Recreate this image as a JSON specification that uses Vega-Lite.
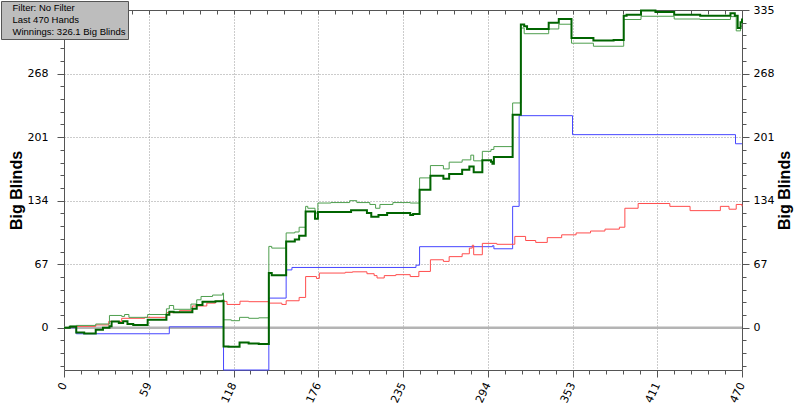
{
  "$schema": "https://vega.github.io/schema/vega-lite/v6.json",
  "width": 678,
  "height": 360,
  "autosize": {"type": "none"},
  "padding": {"left": 64, "top": 10, "right": 58, "bottom": 36},
  "background": "white",
  "config": {
    "view": {"stroke": null},
    "axis": {
      "labelFont": "DejaVu Sans", "labelFontSize": 11, "labelColor": "#000000", "labelOverlap": false,
      "titleFont": "Liberation Sans", "titleFontSize": 16, "titleFontWeight": "bold", "titleColor": "#000000",
      "domainColor": "#555555", "tickColor": "#555555"
    }
  },
  "resolve": {"scale": {"x": "independent", "y": "independent"}, "axis": {"x": "independent", "y": "independent"}},
  "layer": [
    {
      "data": {"values": [{"v": 0}]},
      "mark": {"type": "rule", "color": "#b4b4b4", "strokeWidth": 2.5},
      "encoding": {"y": {"field": "v", "type": "quantitative", "scale": {"domain": [-44.5, 335], "nice": false, "zero": false}, "axis": null}}
    },
    {
      "data": {"values": [
        {"h": 0, "v": 0}, {"h": 8.5, "v": -6.3}, {"h": 73, "v": 1}, {"h": 110.6, "v": -44.5}, {"h": 142, "v": 31.3},
        {"h": 154, "v": 61}, {"h": 158, "v": 63.6}, {"h": 244, "v": 66}, {"h": 246.5, "v": 85.5}, {"h": 297, "v": 86.5},
        {"h": 298, "v": 83.3}, {"h": 311, "v": 128}, {"h": 315.5, "v": 223.6}, {"h": 352.5, "v": 203.6}, {"h": 465.5, "v": 194}, {"h": 470, "v": 194}
      ]},
      "mark": {"type": "line", "interpolate": "step-after", "color": "#4646ff", "strokeWidth": 1},
      "encoding": {
        "x": {"field": "h", "type": "quantitative", "scale": {"domain": [0, 470], "nice": false, "zero": false}, "axis": null},
        "y": {"field": "v", "type": "quantitative", "scale": {"domain": [-44.5, 335], "nice": false, "zero": false}, "axis": null}
      }
    },
    {
      "data": {"values": [
        {"h": 0, "v": 0}, {"h": 4, "v": 1}, {"h": 8.5, "v": 1.5}, {"h": 22, "v": 3}, {"h": 31, "v": 6.7}, {"h": 40, "v": 10},
        {"h": 56, "v": 11}, {"h": 71, "v": 16}, {"h": 80, "v": 18}, {"h": 89, "v": 23}, {"h": 99, "v": 26}, {"h": 105, "v": 28},
        {"h": 110.6, "v": 27.8}, {"h": 113, "v": 24.6}, {"h": 122, "v": 28}, {"h": 128, "v": 27.5}, {"h": 142, "v": 26},
        {"h": 151, "v": 24.6}, {"h": 154, "v": 28.5}, {"h": 163, "v": 32}, {"h": 167.5, "v": 54}, {"h": 175, "v": 52},
        {"h": 177, "v": 57.7}, {"h": 195, "v": 58.5}, {"h": 200, "v": 59}, {"h": 210, "v": 57}, {"h": 215, "v": 55},
        {"h": 217, "v": 52.5}, {"h": 222, "v": 55}, {"h": 230, "v": 56}, {"h": 240, "v": 54}, {"h": 246, "v": 59.4},
        {"h": 254, "v": 71.7}, {"h": 263, "v": 70}, {"h": 267, "v": 75}, {"h": 276, "v": 78}, {"h": 281, "v": 84},
        {"h": 283, "v": 87}, {"h": 284, "v": 77}, {"h": 290, "v": 89}, {"h": 300, "v": 88}, {"h": 312.5, "v": 96.3},
        {"h": 320, "v": 92}, {"h": 327, "v": 90}, {"h": 335, "v": 95}, {"h": 345, "v": 98}, {"h": 355, "v": 100},
        {"h": 365, "v": 102}, {"h": 375, "v": 104}, {"h": 385, "v": 106}, {"h": 388.8, "v": 126}, {"h": 398, "v": 131},
        {"h": 420, "v": 128}, {"h": 434, "v": 123.5}, {"h": 455, "v": 128}, {"h": 461, "v": 125}, {"h": 466, "v": 130}, {"h": 470, "v": 128}
      ]},
      "mark": {"type": "line", "interpolate": "step-after", "color": "#ff4d4d", "strokeWidth": 1},
      "encoding": {
        "x": {"field": "h", "type": "quantitative", "scale": {"domain": [0, 470], "nice": false, "zero": false}, "axis": null},
        "y": {"field": "v", "type": "quantitative", "scale": {"domain": [-44.5, 335], "nice": false, "zero": false}, "axis": null}
      }
    },
    {
      "data": {"values": [
        {"h": 0, "v": 0}, {"h": 4, "v": 2}, {"h": 8.5, "v": 2.5}, {"h": 22, "v": 4}, {"h": 31.5, "v": 13}, {"h": 40, "v": 12},
        {"h": 42, "v": 14}, {"h": 45, "v": 11}, {"h": 58, "v": 14}, {"h": 71, "v": 20}, {"h": 73, "v": 23.5}, {"h": 76, "v": 19.5},
        {"h": 88, "v": 25}, {"h": 92, "v": 29.5}, {"h": 95, "v": 33}, {"h": 103, "v": 34.5}, {"h": 110, "v": 36.6},
        {"h": 110.6, "v": 8.4}, {"h": 116, "v": 7.5}, {"h": 121.7, "v": 11}, {"h": 128, "v": 10}, {"h": 135, "v": 10.5},
        {"h": 142, "v": 85.8}, {"h": 144, "v": 84}, {"h": 154, "v": 100}, {"h": 160, "v": 101}, {"h": 163, "v": 106},
        {"h": 167.5, "v": 128}, {"h": 169, "v": 126}, {"h": 174, "v": 121}, {"h": 176, "v": 131.5}, {"h": 185, "v": 132},
        {"h": 198, "v": 134}, {"h": 203, "v": 132}, {"h": 212, "v": 130}, {"h": 216, "v": 126}, {"h": 219, "v": 130},
        {"h": 228, "v": 132}, {"h": 240, "v": 131.5}, {"h": 246.5, "v": 158}, {"h": 254, "v": 171}, {"h": 263, "v": 167.5},
        {"h": 267, "v": 174.6}, {"h": 276, "v": 177}, {"h": 282, "v": 182}, {"h": 284, "v": 176}, {"h": 290, "v": 186},
        {"h": 296, "v": 188}, {"h": 298, "v": 191}, {"h": 311, "v": 237}, {"h": 316.7, "v": 316}, {"h": 319, "v": 310},
        {"h": 336, "v": 315}, {"h": 343, "v": 320}, {"h": 351.8, "v": 300}, {"h": 367, "v": 296.8}, {"h": 388, "v": 325},
        {"h": 400, "v": 328.4}, {"h": 423, "v": 325.5}, {"h": 441, "v": 325}, {"h": 462, "v": 328}, {"h": 466, "v": 313},
        {"h": 469, "v": 318}, {"h": 470, "v": 318}
      ]},
      "mark": {"type": "line", "interpolate": "step-after", "color": "#4e9e4e", "strokeWidth": 1},
      "encoding": {
        "x": {"field": "h", "type": "quantitative", "scale": {"domain": [0, 470], "nice": false, "zero": false},
          "axis": {"orient": "top", "values": [0, 11.75, 23.5, 35.25, 47, 58.75, 70.5, 82.25, 94, 105.75, 117.5, 129.25, 141, 152.75, 164.5, 176.25, 188, 199.75, 211.5, 223.25, 235, 246.75, 258.5, 270.25, 282, 293.75, 305.5, 317.25, 329, 340.75, 352.5, 364.25, 376, 387.75, 399.5, 411.25, 423, 434.75, 446.5, 458.25, 470],
            "labels": false, "grid": false, "title": null, "tickSize": -4}},
        "y": {"field": "v", "type": "quantitative", "scale": {"domain": [-44.5, 335], "nice": false, "zero": false},
          "axis": {"orient": "right", "values": [-40.2, -26.8, -13.4, 0, 13.4, 26.8, 40.2, 53.6, 67, 80.4, 93.8, 107.2, 120.6, 134, 147.4, 160.8, 174.2, 187.6, 201, 214.4, 227.8, 241.2, 254.6, 268, 281.4, 294.8, 308.2, 321.6, 335],
            "labelExpr": "datum.value % 67 == 0 ? datum.label : ''", "grid": false, "title": "Big Blinds", "titleAngle": -90, "titlePadding": 19,
            "tickSize": {"condition": {"test": "datum.value % 67 == 0", "value": 7}, "value": 4}, "labelPadding": 4}}
      }
    },
    {
      "data": {"values": [
        {"h": 0, "v": 0}, {"h": 4, "v": 1}, {"h": 8.5, "v": -5}, {"h": 14, "v": -6}, {"h": 22, "v": -2}, {"h": 27, "v": 0},
        {"h": 31.5, "v": 1.5}, {"h": 33, "v": 6.6}, {"h": 38, "v": 5}, {"h": 41, "v": 7}, {"h": 44, "v": 4}, {"h": 48, "v": 3},
        {"h": 58, "v": 8.4}, {"h": 71, "v": 13.7}, {"h": 73, "v": 17}, {"h": 76, "v": 16.5}, {"h": 89, "v": 20}, {"h": 92, "v": 24},
        {"h": 96, "v": 27.5}, {"h": 105, "v": 28}, {"h": 110, "v": 28.5}, {"h": 110.6, "v": -19.7}, {"h": 114, "v": -20},
        {"h": 121.7, "v": -15.5}, {"h": 128, "v": -16.5}, {"h": 135, "v": -17}, {"h": 142, "v": 57.7}, {"h": 144, "v": 55.5},
        {"h": 154, "v": 91}, {"h": 160, "v": 93}, {"h": 163, "v": 97}, {"h": 167.5, "v": 122.7}, {"h": 174, "v": 115},
        {"h": 176, "v": 122}, {"h": 190, "v": 122}, {"h": 199, "v": 124}, {"h": 210, "v": 121}, {"h": 213, "v": 117},
        {"h": 218, "v": 119}, {"h": 224, "v": 121}, {"h": 230, "v": 121}, {"h": 240, "v": 119}, {"h": 242, "v": 120},
        {"h": 246.5, "v": 145.6}, {"h": 254, "v": 160.4}, {"h": 263, "v": 157}, {"h": 267, "v": 162}, {"h": 276, "v": 166.5},
        {"h": 281, "v": 170}, {"h": 284, "v": 164}, {"h": 290, "v": 176.5}, {"h": 296, "v": 175}, {"h": 297, "v": 173},
        {"h": 298, "v": 180}, {"h": 311, "v": 224.7}, {"h": 316.7, "v": 319.7}, {"h": 319, "v": 318}, {"h": 321, "v": 315},
        {"h": 336, "v": 321.5}, {"h": 343, "v": 325.5}, {"h": 351.8, "v": 305.6}, {"h": 367, "v": 302.8}, {"h": 381, "v": 303.5},
        {"h": 388, "v": 329}, {"h": 390, "v": 330}, {"h": 400, "v": 334.4}, {"h": 410, "v": 333}, {"h": 423, "v": 330},
        {"h": 441, "v": 329}, {"h": 462, "v": 331.5}, {"h": 465, "v": 329}, {"h": 467, "v": 316}, {"h": 469, "v": 322}, {"h": 470, "v": 326.1}
      ]},
      "mark": {"type": "line", "interpolate": "step-after", "color": "#006400", "strokeWidth": 2},
      "encoding": {
        "x": {"field": "h", "type": "quantitative", "scale": {"domain": [0, 470], "nice": false, "zero": false},
          "axis": {"orient": "bottom", "values": [0, 11.75, 23.5, 35.25, 47, 58.75, 70.5, 82.25, 94, 105.75, 117.5, 129.25, 141, 152.75, 164.5, 176.25, 188, 199.75, 211.5, 223.25, 235, 246.75, 258.5, 270.25, 282, 293.75, 305.5, 317.25, 329, 340.75, 352.5, 364.25, 376, 387.75, 399.5, 411.25, 423, 434.75, 446.5, 458.25, 470],
            "labelExpr": "datum.value % 58.75 == 0 ? format(datum.value, '.0f') : ''", "labelAngle": -65, "labelAlign": "right", "labelBaseline": "middle",
            "title": null, "grid": true, "gridDash": [1, 2], "gridColor": "#999999",
            "gridOpacity": {"condition": {"test": "datum.value % 58.75 == 0 && datum.value > 0 && datum.value < 470", "value": 1}, "value": 0},
            "tickSize": {"condition": {"test": "datum.value % 58.75 == 0", "value": 7}, "value": 4}, "labelPadding": 6}},
        "y": {"field": "v", "type": "quantitative", "scale": {"domain": [-44.5, 335], "nice": false, "zero": false},
          "axis": {"orient": "left", "values": [-40.2, -26.8, -13.4, 0, 13.4, 26.8, 40.2, 53.6, 67, 80.4, 93.8, 107.2, 120.6, 134, 147.4, 160.8, 174.2, 187.6, 201, 214.4, 227.8, 241.2, 254.6, 268, 281.4, 294.8, 308.2, 321.6, 335],
            "labelExpr": "datum.value % 67 == 0 && datum.value < 335 ? datum.label : ''", "title": "Big Blinds", "titlePadding": 3,
            "grid": true, "gridDash": [1, 2], "gridColor": "#999999",
            "gridOpacity": {"condition": {"test": "datum.value % 67 == 0 && datum.value != 0 && datum.value < 335", "value": 1}, "value": 0},
            "tickSize": {"condition": {"test": "datum.value % 67 == 0", "value": 7}, "value": 4}, "labelPadding": 9}}
      }
    },
    {
      "data": {"values": [{"info": "Filter: No Filter"}, {"info": "Last 470 Hands"}, {"info": "Winnings: 326.1 Big Blinds"}]},
      "mark": {"type": "point", "opacity": 0},
      "encoding": {
        "x": {"datum": 0, "type": "quantitative", "scale": {"domain": [0, 470]}, "axis": null},
        "y": {"datum": 0, "type": "quantitative", "scale": {"domain": [-44.5, 335]}, "axis": null},
        "shape": {"field": "info", "type": "nominal", "scale": {"domain": ["Filter: No Filter", "Last 470 Hands", "Winnings: 326.1 Big Blinds"]},
          "legend": {"orient": "none", "legendX": -63, "legendY": -9, "title": null, "fillColor": "#bdbdbd", "strokeColor": "#555555",
            "padding": 2, "rowPadding": 1, "symbolSize": 0, "symbolStrokeWidth": 0, "symbolOpacity": 0, "symbolOffset": 0,
            "labelFont": "Liberation Sans", "labelFontSize": 9.5, "labelColor": "#000000", "labelLimit": 300, "labelOffset": 0, "cornerRadius": 0}}
      }
    }
  ]
}
